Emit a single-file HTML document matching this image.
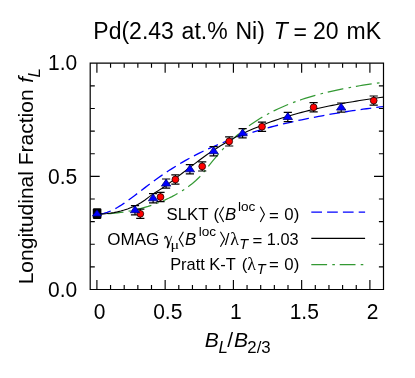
<!DOCTYPE html>
<html><head><meta charset="utf-8">
<style>
html,body{margin:0;padding:0;background:#fff;}
body{width:415px;height:378px;overflow:hidden;}
svg{display:block;}
text{font-family:"Liberation Sans",sans-serif;fill:#000;}
.it{font-style:italic;}
.ser{font-family:"Liberation Serif",serif;}
.eb{fill:none;stroke:#000;stroke-width:1.2;}
.tri{fill:#0000ff;stroke:#000080;stroke-width:0.8;stroke-linejoin:miter;}
.cir{fill:#ff0000;stroke:#200000;stroke-width:0.8;}
</style></head>
<body>
<svg width="415" height="378" viewBox="0 0 415 378">
<rect width="415" height="378" fill="#fff"/>
<!-- curves -->
<path d="M96.90,214.07 L100.31,214.03 L103.73,213.93 L107.14,213.77 L110.55,213.54 L113.96,213.24 L117.38,212.87 L120.79,212.44 L124.20,211.94 L127.61,211.36 L131.03,210.72 L134.44,210.00 L137.85,209.21 L141.26,208.34 L144.68,207.39 L148.09,206.37 L151.50,205.26 L154.91,204.06 L158.33,202.77 L161.74,201.39 L165.15,199.91 L168.56,198.33 L171.98,196.63 L175.39,194.81 L178.80,192.86 L182.21,190.77 L185.62,188.52 L189.04,186.09 L192.45,183.45 L195.86,180.55 L199.28,177.29 L202.69,173.39 L206.10,169.16 L209.51,164.89 L212.93,160.68 L216.34,156.59 L219.75,152.65 L223.16,148.89 L226.58,145.30 L229.99,141.88 L233.40,138.63 L236.81,135.56 L240.23,132.64 L243.64,129.87 L247.05,127.25 L250.46,124.77 L253.88,122.42 L257.29,120.19 L260.70,118.08 L264.11,116.07 L267.52,114.16 L270.94,112.36 L274.35,110.64 L277.76,109.00 L281.18,107.45 L284.59,105.97 L288.00,104.56 L291.41,103.21 L294.83,101.93 L298.24,100.71 L301.65,99.54 L305.06,98.43 L308.48,97.36 L311.89,96.34 L315.30,95.37 L318.71,94.43 L322.12,93.54 L325.54,92.68 L328.95,91.86 L332.36,91.07 L335.77,90.31 L339.19,89.58 L342.60,88.88 L346.01,88.21 L349.43,87.56 L352.84,86.94 L356.25,86.34 L359.66,85.76 L363.08,85.21 L366.49,84.67 L369.90,84.15 L373.31,83.65 L376.73,83.17 L380.14,82.71 L383.55,82.26" fill="none" stroke="#339933" stroke-width="1.2" stroke-dasharray="16,5.25,2.65,4.85" stroke-dashoffset="18.12"/>
<path d="M96.90,214.07 L100.31,213.87 L103.73,213.27 L107.14,212.31 L110.55,211.00 L113.96,209.39 L117.38,207.51 L120.79,205.42 L124.20,203.15 L127.61,200.75 L131.03,198.25 L134.44,195.69 L137.85,193.10 L141.26,190.49 L144.68,187.88 L148.09,185.30 L151.50,182.75 L154.91,180.25 L158.33,177.80 L161.74,175.40 L165.15,173.06 L168.56,170.79 L171.98,168.58 L175.39,166.43 L178.80,164.35 L182.21,162.33 L185.62,160.37 L189.04,158.47 L192.45,156.64 L195.86,154.86 L199.28,153.14 L202.69,151.47 L206.10,149.86 L209.51,148.30 L212.93,146.78 L216.34,145.32 L219.75,143.89 L223.16,142.52 L226.58,141.18 L229.99,139.89 L233.40,138.63 L236.81,137.42 L240.23,136.23 L243.64,135.09 L247.05,133.97 L250.46,132.89 L253.88,131.84 L257.29,130.82 L260.70,129.82 L264.11,128.86 L267.52,127.92 L270.94,127.00 L274.35,126.11 L277.76,125.25 L281.18,124.40 L284.59,123.58 L288.00,122.78 L291.41,122.00 L294.83,121.24 L298.24,120.50 L301.65,119.77 L305.06,119.06 L308.48,118.38 L311.89,117.70 L315.30,117.04 L318.71,116.40 L322.12,115.77 L325.54,115.16 L328.95,114.56 L332.36,113.97 L335.77,113.40 L339.19,112.84 L342.60,112.29 L346.01,111.75 L349.43,111.23 L352.84,110.71 L356.25,110.21 L359.66,109.72 L363.08,109.23 L366.49,108.76 L369.90,108.30 L373.31,107.84 L376.73,107.40 L380.14,106.96 L383.55,106.53" fill="none" stroke="#0000ff" stroke-width="1.3" stroke-dasharray="10.7,5.1" stroke-dashoffset="12.15"/>
<path d="M96.90,214.07 L100.31,214.01 L103.73,213.83 L107.14,213.54 L110.55,213.13 L113.96,212.59 L117.38,211.89 L120.79,211.06 L124.20,210.07 L127.61,208.91 L131.03,207.61 L134.44,206.17 L137.85,204.53 L141.26,202.51 L144.68,200.18 L148.09,197.57 L151.50,195.15 L154.91,192.79 L158.33,190.62 L161.74,188.44 L165.15,186.15 L168.56,183.72 L171.98,181.18 L175.39,178.57 L178.80,175.92 L182.21,173.26 L185.62,170.63 L189.04,168.02 L192.45,165.42 L195.86,162.82 L199.28,160.24 L202.69,157.72 L206.10,155.26 L209.51,152.89 L212.93,150.62 L216.34,148.42 L219.75,146.28 L223.16,144.20 L226.58,142.19 L229.99,140.25 L233.40,138.37 L236.81,136.57 L240.23,134.85 L243.64,133.19 L247.05,131.59 L250.46,130.06 L253.88,128.57 L257.29,127.14 L260.70,125.74 L264.11,124.39 L267.52,123.09 L270.94,121.84 L274.35,120.64 L277.76,119.47 L281.18,118.35 L284.59,117.27 L288.00,116.23 L291.41,115.22 L294.83,114.24 L298.24,113.30 L301.65,112.39 L305.06,111.51 L308.48,110.65 L311.89,109.83 L315.30,109.03 L318.71,108.25 L322.12,107.50 L325.54,106.77 L328.95,106.07 L332.36,105.38 L335.77,104.72 L339.19,104.07 L342.60,103.44 L346.01,102.83 L349.43,102.24 L352.84,101.67 L356.25,101.10 L359.66,100.56 L363.08,100.03 L366.49,99.51 L369.90,99.01 L373.31,98.52 L376.73,98.04 L380.14,97.57 L383.55,97.12" fill="none" stroke="#000" stroke-width="1.1"/>
<!-- markers -->
<path class="eb" d="M135.00,205.60 v9.20 M130.90,205.60 h8.20 M130.90,214.80 h8.20"/>
<path class="eb" d="M153.10,193.70 v9.20 M149.00,193.70 h8.20 M149.00,202.90 h8.20"/>
<path class="eb" d="M166.10,179.00 v9.20 M162.00,179.00 h8.20 M162.00,188.20 h8.20"/>
<path class="eb" d="M189.90,164.70 v9.20 M185.80,164.70 h8.20 M185.80,173.90 h8.20"/>
<path class="eb" d="M213.60,146.60 v9.20 M209.50,146.60 h8.20 M209.50,155.80 h8.20"/>
<path class="eb" d="M242.60,128.70 v9.20 M238.50,128.70 h8.20 M238.50,137.90 h8.20"/>
<path class="eb" d="M287.80,112.40 v9.20 M283.70,112.40 h8.20 M283.70,121.60 h8.20"/>
<path class="eb" d="M341.20,103.00 v9.20 M337.10,103.00 h8.20 M337.10,112.20 h8.20"/>
<path class="eb" d="M140.30,209.20 v9.20 M136.20,209.20 h8.20 M136.20,218.40 h8.20"/>
<path class="eb" d="M160.50,192.40 v9.20 M156.40,192.40 h8.20 M156.40,201.60 h8.20"/>
<path class="eb" d="M175.40,174.90 v9.20 M171.30,174.90 h8.20 M171.30,184.10 h8.20"/>
<path class="eb" d="M202.20,161.80 v9.20 M198.10,161.80 h8.20 M198.10,171.00 h8.20"/>
<path class="eb" d="M229.20,136.80 v9.20 M225.10,136.80 h8.20 M225.10,146.00 h8.20"/>
<path class="eb" d="M262.00,122.10 v9.20 M257.90,122.10 h8.20 M257.90,131.30 h8.20"/>
<path class="eb" d="M313.60,102.70 v9.20 M309.50,102.70 h8.20 M309.50,111.90 h8.20"/>
<path class="eb" d="M373.70,96.00 v9.20 M369.60,96.00 h8.20 M369.60,105.20 h8.20"/>
<rect x="92.8" y="208.2" width="8.6" height="10.9" rx="1.3" fill="#000"/>
<circle class="cir" cx="140.30" cy="213.80" r="3.4"/>
<circle class="cir" cx="160.50" cy="197.00" r="3.4"/>
<circle class="cir" cx="175.40" cy="179.50" r="3.4"/>
<circle class="cir" cx="202.20" cy="166.40" r="3.4"/>
<circle class="cir" cx="229.20" cy="141.40" r="3.4"/>
<circle class="cir" cx="262.00" cy="126.70" r="3.4"/>
<circle class="cir" cx="313.60" cy="107.30" r="3.4"/>
<circle class="cir" cx="373.70" cy="100.60" r="3.4"/>
<path class="tri" d="M97.0,209.9 l4.6,6.1 h-9.2 z"/>
<path class="tri" d="M135.00,205.80 l4.7,6.9 h-9.4 z"/>
<path class="tri" d="M153.10,193.90 l4.7,6.9 h-9.4 z"/>
<path class="tri" d="M166.10,179.20 l4.7,6.9 h-9.4 z"/>
<path class="tri" d="M189.90,164.90 l4.7,6.9 h-9.4 z"/>
<path class="tri" d="M213.60,146.80 l4.7,6.9 h-9.4 z"/>
<path class="tri" d="M242.60,128.90 l4.7,6.9 h-9.4 z"/>
<path class="tri" d="M287.80,112.60 l4.7,6.9 h-9.4 z"/>
<path class="tri" d="M341.20,103.20 l4.7,6.9 h-9.4 z"/>
<!-- frame -->
<path d="M90.20,63.20 H383.50 V289.50 H90.20 Z" fill="none" stroke="#000" stroke-width="1.2"/>
<path d="M96.90,289.50 v-9.5 M96.90,63.20 v9.5 M110.55,289.50 v-4.6 M110.55,63.20 v4.6 M124.20,289.50 v-4.6 M124.20,63.20 v4.6 M137.85,289.50 v-4.6 M137.85,63.20 v4.6 M151.50,289.50 v-4.6 M151.50,63.20 v4.6 M165.15,289.50 v-9.5 M165.15,63.20 v9.5 M178.80,289.50 v-4.6 M178.80,63.20 v4.6 M192.45,289.50 v-4.6 M192.45,63.20 v4.6 M206.10,289.50 v-4.6 M206.10,63.20 v4.6 M219.75,289.50 v-4.6 M219.75,63.20 v4.6 M233.40,289.50 v-9.5 M233.40,63.20 v9.5 M247.05,289.50 v-4.6 M247.05,63.20 v4.6 M260.70,289.50 v-4.6 M260.70,63.20 v4.6 M274.35,289.50 v-4.6 M274.35,63.20 v4.6 M288.00,289.50 v-4.6 M288.00,63.20 v4.6 M301.65,289.50 v-9.5 M301.65,63.20 v9.5 M315.30,289.50 v-4.6 M315.30,63.20 v4.6 M328.95,289.50 v-4.6 M328.95,63.20 v4.6 M342.60,289.50 v-4.6 M342.60,63.20 v4.6 M356.25,289.50 v-4.6 M356.25,63.20 v4.6 M369.90,289.50 v-9.5 M369.90,63.20 v9.5 M90.20,266.87 h4.6 M383.50,266.87 h-4.6 M90.20,244.24 h4.6 M383.50,244.24 h-4.6 M90.20,221.61 h4.6 M383.50,221.61 h-4.6 M90.20,198.98 h4.6 M383.50,198.98 h-4.6 M90.20,176.35 h9.5 M383.50,176.35 h-9.5 M90.20,153.72 h4.6 M383.50,153.72 h-4.6 M90.20,131.09 h4.6 M383.50,131.09 h-4.6 M90.20,108.46 h4.6 M383.50,108.46 h-4.6 M90.20,85.83 h4.6 M383.50,85.83 h-4.6" fill="none" stroke="#000" stroke-width="1.15"/>
<!-- text -->
<defs><filter id="gs" x="-5%" y="-5%" width="110%" height="110%" color-interpolation-filters="sRGB"><feColorMatrix type="saturate" values="0"/></filter></defs>
<g filter="url(#gs)">
<text x="93.31" y="39.00" font-size="23">Pd(2.43</text>
<text x="181.62" y="39.00" font-size="23">at.%</text>
<text x="235.41" y="39.00" font-size="23">Ni)</text>
<text x="273.83" y="39.00" font-size="23" class="it">T</text>
<text x="293.48" y="40.10" font-size="23">=</text>
<text x="312.94" y="39.00" font-size="23">20</text>
<text x="346.57" y="39.00" font-size="23">mK</text>
<text transform="translate(48.10,70.30) scale(1,1.035)" font-size="21">1.0</text>
<text transform="translate(48.10,183.70) scale(1,1.035)" font-size="21">0.5</text>
<text transform="translate(48.10,297.00) scale(1,1.035)" font-size="21">0.0</text>
<text transform="translate(93.70,318.60) scale(1,1.035)" font-size="21">0</text>
<text transform="translate(153.15,318.60) scale(1,1.035)" font-size="21">0.5</text>
<text transform="translate(230.10,318.60) scale(1,1.035)" font-size="21">1</text>
<text transform="translate(289.65,318.60) scale(1,1.035)" font-size="21">1.5</text>
<text transform="translate(366.65,318.60) scale(1,1.035)" font-size="21">2</text>
<text x="204.85" y="347.00" font-size="21" class="it">B</text>
<text x="218.48" y="353.30" font-size="16.8" class="it">L</text>
<text x="227.20" y="347.00" font-size="21">/</text>
<text x="234.05" y="347.00" font-size="21" class="it">B</text>
<text x="247.36" y="353.30" font-size="16.8">2/3</text>
<text x="166.54" y="219.70" font-size="16.8">SLKT</text>
<text x="213.46" y="219.70" font-size="16.8">(</text>
<text x="225.08" y="219.70" font-size="16.8" class="it">B</text>
<text x="237.98" y="210.90" font-size="13.6">loc</text>
<text x="269.08" y="220.60" font-size="16.8">=</text>
<text x="284.14" y="219.70" font-size="16.8">0</text>
<text x="293.70" y="219.70" font-size="16.8">)</text>
<text x="107.29" y="244.70" font-size="17">OMAG</text>
<text x="185.08" y="244.70" font-size="16.8" class="it">B</text>
<text x="198.78" y="235.90" font-size="13.6">loc</text>
<text x="224.80" y="244.70" font-size="16.8">/</text>
<text x="230.23" y="244.70" font-size="17.8" class="ser">λ</text>
<text x="239.30" y="249.40" font-size="14.5" class="it">T</text>
<text x="252.38" y="245.60" font-size="16.8">=</text>
<text x="266.86" y="244.70" font-size="16.3">1.03</text>
<text x="170.15" y="269.50" font-size="16.4">Pratt</text>
<text x="209.25" y="269.50" font-size="16.4">K-T</text>
<text x="241.66" y="269.50" font-size="16.8">(</text>
<text x="247.33" y="269.50" font-size="17.8" class="ser">λ</text>
<text x="256.70" y="274.20" font-size="14.5" class="it">T</text>
<text x="269.08" y="270.40" font-size="16.8">=</text>
<text x="284.14" y="269.50" font-size="16.8">0</text>
<text x="293.70" y="269.50" font-size="16.8">)</text>
<text transform="translate(33.30,284.32) rotate(-90)" font-size="21">Longitudinal Fraction</text>
<text transform="translate(33.30,82.71) rotate(-90)" font-size="21" class="it">f</text>
<text transform="translate(40.20,77.42) rotate(-90)" font-size="16.8" class="it">L</text>
<path d="M164.8,238.2 C164.9,236.7 165.7,236.0 166.4,236.7 C167.1,237.6 168.0,241.0 168.7,244.0" fill="none" stroke="#000" stroke-width="1.25" stroke-linecap="round"/>
<path d="M171.7,236.2 L168.8,244.3" fill="none" stroke="#000" stroke-width="0.8" stroke-linecap="round"/>
<path d="M168.7,243.8 C168.3,245.3 167.8,246.6 167.6,247.4" fill="none" stroke="#000" stroke-width="1.7" stroke-linecap="round"/>
<text transform="translate(170.39,248.7) scale(1.3,1)" font-size="12.4" class="ser">μ</text>
<path d="M223.60,206.80 L219.50,214.35 L223.60,221.90 M260.30,206.80 L264.40,214.35 L260.30,221.90 M183.40,231.80 L179.20,239.30 L183.40,246.80 M220.40,231.80 L224.60,239.30 L220.40,246.80" fill="none" stroke="#000" stroke-width="1.1" stroke-linejoin="miter"/>
</g>
<!-- legend samples -->
<path d="M311.3,212.2 H365.1" fill="none" stroke="#0000ff" stroke-width="1.3" stroke-dasharray="10.7,5.1"/>
<path d="M311.3,238.35 H365.1" fill="none" stroke="#000" stroke-width="1.05"/>
<path d="M311.3,264.6 H365.1" fill="none" stroke="#339933" stroke-width="1.2" stroke-dasharray="15.8,5.2,2.6,4.8"/>
</svg>
</body></html>
